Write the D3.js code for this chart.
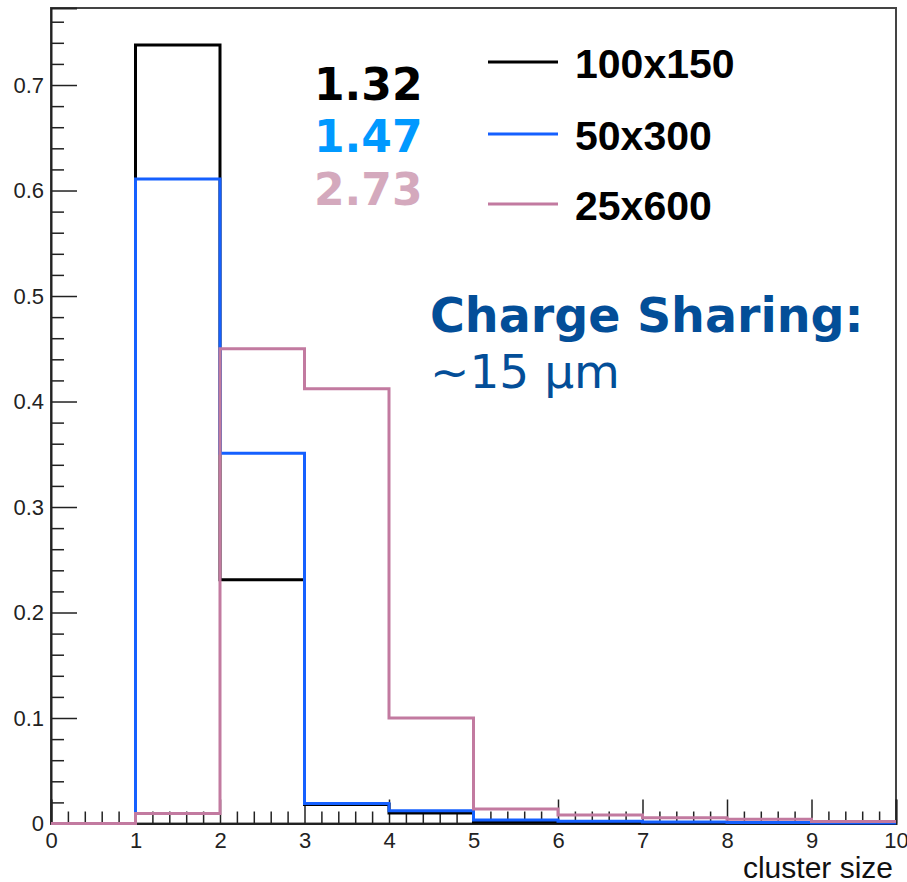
<!DOCTYPE html>
<html>
<head>
<meta charset="utf-8">
<script src="https://cdn.jsdelivr.net/npm/d3@7"></script>
<style>
  body { margin: 0; background: #fff; }
  svg { display: block; }
</style>
</head>
<body>
<svg id="chart" width="907" height="882"></svg>
<script>
// Bin edges of the cluster size histograms (bins of width 1 from 0 to 10)
const binStarts = [0, 1, 2, 3, 4, 5, 6, 7, 8, 9];
const binEnd = 10;

// Series, fractions per bin
const seriesNames = ["100x150", "50x300", "25x600"];
const meanLabels = ["1.32", "1.47", "2.73"];
const values100x150 = [0, 0.738, 0.231, 0.018, 0.010, 0.0014, 0.0012, 0.0010, 0.0006, 0.0003];
const values50x300  = [0, 0.611, 0.351, 0.019, 0.012, 0.0033, 0.0022, 0.0015, 0.0010, 0.0005];
const values25x600  = [0, 0.0095, 0.450, 0.412, 0.100, 0.0137, 0.0080, 0.0055, 0.0040, 0.0020];

// Axis ticks
const xTickValues = [0, 1, 2, 3, 4, 5, 6, 7, 8, 9, 10];
const yTickValues = [0, 0.1, 0.2, 0.3, 0.4, 0.5, 0.6, 0.7];
const yTickLabels = ["0", "0.1", "0.2", "0.3", "0.4", "0.5", "0.6", "0.7"];

const lineColors = ["#000000", "#1560ff", "#c27aa0"];
const meanColors = ["#000000", "#0099ff", "#d4a9bd"];
const noteColor = "#034e98";

const svg = d3.select("#chart");

// plot frame
const frameLeft = 51, frameRight = 896, frameTop = 8, frameBottom = 823.5;

const x = d3.scaleLinear().domain([0, 10]).range([frameLeft, frameRight]);
const y = d3.scaleLinear().domain([0, 0.773]).range([frameBottom, frameTop]);

// Frame box
svg.append("rect")
    .attr("x", frameLeft)
    .attr("y", frameTop)
    .attr("width", frameRight - frameLeft)
    .attr("height", frameBottom - frameTop)
    .attr("fill", "none")
    .attr("stroke", "#444")
    .attr("stroke-width", 2);

// Minor ticks
const xMinor = d3.range(0, 10.001, 0.2).filter(v => Math.abs(v - Math.round(v)) > 1e-6);
const yMinor = d3.range(0, 0.7701, 0.02).filter(v => Math.abs(v * 10 - Math.round(v * 10)) > 1e-6);

svg.append("g")
    .attr("transform", "translate(0," + frameBottom + ")")
    .call(d3.axisBottom(x).tickValues(xMinor).tickSize(-12).tickFormat(""))
    .call(g => g.select(".domain").remove())
    .call(g => g.selectAll("line").attr("stroke", "#222").attr("stroke-width", 1.5));

svg.append("g")
    .attr("transform", "translate(" + frameLeft + ",0)")
    .call(d3.axisLeft(y).tickValues(yMinor).tickSize(-13).tickFormat(""))
    .call(g => g.select(".domain").remove())
    .call(g => g.selectAll("line").attr("stroke", "#222").attr("stroke-width", 1.5));

// Major ticks + labels
svg.append("g")
    .attr("transform", "translate(0," + frameBottom + ")")
    .call(d3.axisBottom(x).tickValues(xTickValues).tickSize(-24).tickPadding(9).tickFormat(d3.format("d")))
    .call(g => g.select(".domain").attr("stroke", "#222").attr("stroke-width", 2))
    .call(g => g.selectAll("line").attr("stroke", "#222").attr("stroke-width", 1.5))
    .call(g => g.selectAll("text")
        .attr("font-family", "Liberation Sans, Arial, sans-serif")
        .attr("font-size", 22)
        .attr("fill", "#222"));

svg.append("g")
    .attr("transform", "translate(" + frameLeft + ",0)")
    .call(d3.axisLeft(y).tickValues(yTickValues).tickSize(-26).tickPadding(7)
        .tickFormat((d, i) => yTickLabels[i]))
    .call(g => g.select(".domain").attr("stroke", "#222").attr("stroke-width", 2))
    .call(g => g.selectAll("line").attr("stroke", "#222").attr("stroke-width", 1.5))
    .call(g => g.selectAll("text")
        .attr("font-family", "Liberation Sans, Arial, sans-serif")
        .attr("font-size", 22)
        .attr("fill", "#222"));

// Axis title
svg.append("text")
    .attr("x", 893)
    .attr("y", 878)
    .attr("text-anchor", "end")
    .attr("font-family", "Liberation Sans, Arial, sans-serif")
    .attr("font-size", 30)
    .attr("fill", "#111")
    .text("cluster size");

// Histograms as step outlines
const allValues = [values100x150, values50x300, values25x600];
const step = d3.line()
    .x(d => x(d[0]))
    .y(d => y(d[1]))
    .curve(d3.curveStepAfter);

allValues.forEach((vals, i) => {
    const pts = binStarts.map((b, j) => [b, vals[j]]);
    pts.push([binEnd, vals[vals.length - 1]]);
    svg.append("path")
        .attr("d", step(pts))
        .attr("fill", "none")
        .attr("stroke", lineColors[i])
        .attr("stroke-width", 3);
});

// Legend
const legendY = [62, 134, 204];
seriesNames.forEach((name, i) => {
    svg.append("line")
        .attr("x1", 488).attr("x2", 558)
        .attr("y1", legendY[i]).attr("y2", legendY[i])
        .attr("stroke", lineColors[i])
        .attr("stroke-width", 3);
    svg.append("text")
        .attr("x", 575)
        .attr("y", legendY[i] + 16)
        .attr("font-family", "Liberation Sans, Arial, sans-serif")
        .attr("font-weight", "bold")
        .attr("font-size", 41)
        .attr("fill", "#000")
        .text(name);
});

// Mean cluster sizes
const meanY = [100, 152, 205];
meanLabels.forEach((m, i) => {
    svg.append("text")
        .attr("x", 314)
        .attr("y", meanY[i])
        .attr("font-family", "DejaVu Sans, sans-serif")
        .attr("font-weight", "bold")
        .attr("font-size", 44)
        .attr("fill", meanColors[i])
        .text(m);
});

// Note
svg.append("text")
    .attr("x", 430)
    .attr("y", 332)
    .attr("font-family", "DejaVu Sans, sans-serif")
    .attr("font-weight", "bold")
    .attr("font-size", 47.5)
    .attr("fill", noteColor)
    .text("Charge Sharing:");

svg.append("text")
    .attr("x", 430)
    .attr("y", 388)
    .attr("font-family", "DejaVu Sans, sans-serif")
    .attr("font-size", 47)
    .attr("fill", noteColor)
    .text("~15 µm");
</script>
</body>
</html>
